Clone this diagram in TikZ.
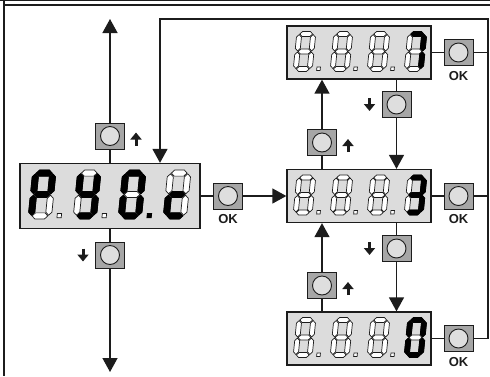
\documentclass[tikz,border=0pt]{standalone}
\usepackage{fontspec}
\newfontfamily\okfont{Liberation Sans}
\usetikzlibrary{arrows.meta,positioning}
\definecolor{dispgray}{RGB}{220,220,220}
\definecolor{btngray}{RGB}{166,166,166}
\definecolor{circgray}{RGB}{222,222,222}
\definecolor{linek}{RGB}{28,28,28}
\tikzset{
  conn/.style={line width=1.4pt, draw=linek},
  arr/.style={conn, -{Triangle[length=14pt,width=15pt]}},
  smallarr/.style={line width=3pt, draw=linek, -{Triangle[length=7pt,width=11pt]}},
  dispR/.style={draw=linek, line width=1.3pt, fill=dispgray, minimum width=144pt, minimum height=53pt, inner sep=0pt},
  dispL/.style={draw=linek, line width=1.3pt, fill=dispgray, minimum width=180pt, minimum height=65pt, inner sep=0pt},
  btn/.style={draw=linek, line width=1pt, fill=btngray, minimum width=29pt, minimum height=26pt, inner sep=0pt,
    path picture={\draw[fill=circgray, line width=0.9pt, draw=linek] (path picture bounding box.center) circle[radius=9.5pt];}},
  oklbl/.style={font=\okfont\bfseries\fontsize{13}{13}\selectfont, text=linek, inner sep=0pt},
  segoff/.style={fill=white, draw=linek, line width=0.7pt},
  segon/.style={fill=black, draw=black, line width=0.8pt},
}
\def\sgpa#1{\path[#1] (3.1,37.5) -- (5.6,40) -- (13.4,40) -- (15.9,37.5) -- (13.4,35) -- (5.6,35) -- cycle;}
\def\sgpg#1{\path[#1] (3.1,20) -- (5.6,22.5) -- (13.4,22.5) -- (15.9,20) -- (13.4,17.5) -- (5.6,17.5) -- cycle;}
\def\sgpd#1{\path[#1] (3.1,2.5) -- (5.6,5) -- (13.4,5) -- (15.9,2.5) -- (13.4,0) -- (5.6,0) -- cycle;}
\def\sgpf#1{\path[#1] (2.5,20.6) -- (5,23.1) -- (5,34.4) -- (2.5,36.9) -- (0,34.4) -- (0,23.1) -- cycle;}
\def\sgpb#1{\path[#1] (16.5,20.6) -- (19,23.1) -- (19,34.4) -- (16.5,36.9) -- (14,34.4) -- (14,23.1) -- cycle;}
\def\sgpe#1{\path[#1] (2.5,3.1) -- (5,5.6) -- (5,16.9) -- (2.5,19.4) -- (0,16.9) -- (0,5.6) -- cycle;}
\def\sgpc#1{\path[#1] (16.5,3.1) -- (19,5.6) -- (19,16.9) -- (16.5,19.4) -- (14,16.9) -- (14,5.6) -- cycle;}
\def\sgpx#1{}
\def\dpn{}
\def\dpo{\path[segoff] (23.5,1) rectangle (27,4.5);}
\def\dpl{\path[segon] (23.5,1) rectangle (27,4.5);}
\newcommand\sevdig[4]{%
  \begin{scope}[shift={#1}, scale=#2, yscale=-1, xslant=-0.1]
    \foreach \s in {a,b,c,d,e,f,g} {\csname sgp\s\endcsname{segoff}}
    \foreach \s in {#3} {\csname sgp\s\endcsname{segon}}
    \csname dp#4\endcsname
  \end{scope}}
\begin{document}
\begin{tikzpicture}[x=1pt, y=-1pt]
\useasboundingbox (0,0) rectangle (490,376);
% frame
\draw[line width=0.9pt, linek] (0,0.6) -- (490,0.6);
\draw[line width=2.2pt, linek] (4,5.2) -- (490,5.2);
\draw[line width=1.8pt, linek] (4.2,0) -- (4.2,376);
% displays
\node[dispL] (d0) at (110,196) {};
\node[dispR] (dT) at (359,52.5) {};
\node[dispR] (dM) at (359,196) {};
\node[dispR] (dB) at (359,338.5) {};
% digits left
\sevdig{(28,219)}{1.225}{a,b,e,f,g}{o}
\sevdig{(73,219)}{1.225}{b,c,d,f,g}{o}
\sevdig{(118,219)}{1.225}{a,b,c,d,e,f}{l}
\sevdig{(163,219)}{1.225}{d,e,g}{n}
% digits top
\sevdig{(293,71.5)}{1}{x}{o}
\sevdig{(330,71.5)}{1}{x}{o}
\sevdig{(367,71.5)}{1}{x}{o}
\sevdig{(404,71.5)}{1}{a,b,c}{n}
% digits middle
\sevdig{(293,215)}{1}{x}{o}
\sevdig{(330,215)}{1}{x}{o}
\sevdig{(367,215)}{1}{x}{o}
\sevdig{(404,215)}{1}{a,b,c,d,g}{n}
% digits bottom
\sevdig{(293,357.5)}{1}{x}{o}
\sevdig{(330,357.5)}{1}{x}{o}
\sevdig{(367,357.5)}{1}{x}{o}
\sevdig{(404,357.5)}{1}{a,b,c,d,e,f}{n}
% buttons
\node[btn] (u0) at (110,136) {};
\node[btn] (n0) at (110,255) {};
\node[btn] (k0) at (228,196) {};
\node[btn] (kT) at (458.5,52.5) {};
\node[btn] (kM) at (458.5,196) {};
\node[btn] (kB) at (458.5,338.5) {};
\node[btn] (uT) at (322,142.5) {};
\node[btn] (nT) at (396.5,104.5) {};
\node[btn] (uB) at (322,285.5) {};
\node[btn] (nB) at (396.5,248.5) {};
% OK labels
\node[oklbl, below=5pt of k0] (k0l) {OK};
\node[oklbl, below=5pt of kT] (kTl) {OK};
\node[oklbl, below=5pt of kM] (kMl) {OK};
\node[oklbl, below=5pt of kB] (kBl) {OK};
% coordinates
\coordinate (topA) at (110,19);
\coordinate (botA) at (110,372);
\coordinate (rail) at (488,19);
\coordinate (fb) at (160,19);
% left connectors
\draw[conn] (d0.north) -- (u0.south);
\draw[arr] (u0.north) -- (topA);
\draw[conn] (d0.south) -- (n0.north);
\draw[arr] (n0.south) -- (botA);
\draw[conn] (d0.east) -- (k0.west);
\draw[arr] (k0.east) -- (dM.west);
% right OK connectors
\draw[conn] (dT.east) -- (kT.west);
\draw[conn] (dM.east) -- (kM.west);
\draw[conn] (dB.east) -- (kB.west);
\draw[conn] (kT.east) -- (kT.east -| rail);
\draw[conn] (kM.east) -- (kM.east -| rail);
\draw[arr] (kB.east) -| (rail) -- (fb) -- (fb |- d0.north);
% vertical between displays
\draw[conn] (dM.north -| uT) -- (uT.south);
\draw[arr] (uT.north) -- (uT |- dT.south);
\draw[conn] (dT.south -| nT) -- (nT.north);
\draw[arr] (nT.south) -- (nT |- dM.north);
\draw[conn] (dB.north -| uB) -- (uB.south);
\draw[arr] (uB.north) -- (uB |- dM.south);
\draw[conn] (dM.south -| nB) -- (nB.north);
\draw[arr] (nB.south) -- (nB |- dB.north);
% small arrows
\draw[smallarr] ([shift={(11,9.5)}]u0.east) -- ([shift={(11,-3.5)}]u0.east);
\draw[smallarr] ([shift={(11,9.5)}]uT.east) -- ([shift={(11,-3.5)}]uT.east);
\draw[smallarr] ([shift={(11,9.5)}]uB.east) -- ([shift={(11,-3.5)}]uB.east);
\draw[smallarr] ([shift={(-12,-6.5)}]n0.west) -- ([shift={(-12,6.5)}]n0.west);
\draw[smallarr] ([shift={(-12,-6.5)}]nT.west) -- ([shift={(-12,6.5)}]nT.west);
\draw[smallarr] ([shift={(-12,-6.5)}]nB.west) -- ([shift={(-12,6.5)}]nB.west);
\end{tikzpicture}
\end{document}
